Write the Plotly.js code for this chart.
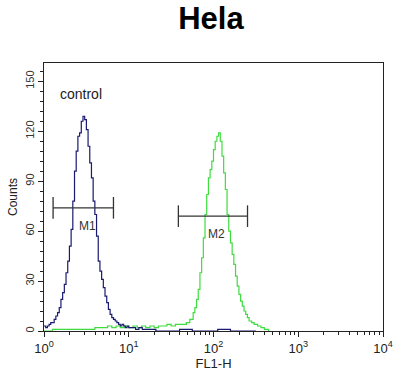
<!DOCTYPE html>
<html>
<head>
<meta charset="utf-8">
<script src="https://cdn.plot.ly/plotly-3.0.1.min.js"></script>
<style>html,body{margin:0;padding:0;background:#fff;}#chart{width:400px;height:387px;}</style>
</head>
<body>
<div id="chart"></div>
<script>
// Control (blue) histogram: log10(FL1-H) position and counts
const controlLogFL = [0.00,0.02,0.04,0.06,0.08,0.10,0.12,0.14,0.16,0.18,0.20,0.22,0.24,0.26,0.28,0.30,0.32,0.34,0.36,0.38,0.40,0.42,0.44,0.46,0.48,0.50,0.52,0.54,0.56,0.58,0.60,0.62,0.64,0.66,0.68,0.70,0.72,0.74,0.76,0.78,0.80,0.82,0.84,0.86,0.88,0.90,0.92,0.94,0.96,0.98,1.00,1.04,1.08,1.12,1.16,1.20,1.26,1.32,1.45,1.60,1.75,1.90,2.05,2.20,2.35,2.50];
const controlCounts = [3,2,3,4,5,5,7,9,11,14,19,23,28,35,42,51,61,78,96,108,117,119,126,129,127,121,111,101,92,78,70,57,42,36,31,26,21,17,13,10,8,7,6,5,4,3,4,3,2,3,2,2,1,2,1,1,1,0,0,1,0,0,1,0,0,0];

// Sample (green) histogram
const sampleLogFL = [0.00,0.10,0.20,0.30,0.40,0.50,0.60,0.70,0.75,0.80,0.85,0.90,0.95,1.00,1.05,1.10,1.15,1.20,1.25,1.30,1.35,1.40,1.45,1.50,1.55,1.60,1.64,1.68,1.72,1.76,1.78,1.80,1.82,1.84,1.86,1.88,1.90,1.92,1.94,1.96,1.98,2.00,2.02,2.04,2.06,2.08,2.10,2.12,2.14,2.16,2.18,2.20,2.22,2.24,2.26,2.28,2.30,2.32,2.34,2.36,2.38,2.40,2.42,2.45,2.48,2.52,2.56,2.60,2.65];
const sampleCounts = [0,1,1,1,1,1,2,2,3,2,3,2,3,2,3,2,3,2,3,2,3,3,4,3,4,4,4,5,7,11,14,19,25,35,44,56,70,82,92,97,102,109,114,117,119,114,105,95,85,70,60,53,46,40,33,27,22,18,15,12,10,8,6,5,4,3,2,1,0];

// Gates
const gateNames = ["M1","M2"];
const gateLow = [1.28, 38.5];
const gateHigh = [6.6, 252];
const gateLevel = [74, 69];

// Axis ticks
const xTickVals = [1,10,100,1000,10000];
const xTickText = ["10<sup>0</sup>","10<sup>1</sup>","10<sup>2</sup>","10<sup>3</sup>","10<sup>4</sup>"];
const yTickVals = [0,30,60,90,120,150];

const toLin = a => a.map(v => Math.pow(10, v));
const FONT = 'Liberation Sans, Arial, sans-serif';

const traces = [
  {x: toLin(sampleLogFL), y: sampleCounts, type:'scatter', mode:'lines', line:{color:'#3fdc3f', width:1.2, shape:'hv'}, hoverinfo:'skip'},
  {x: toLin(controlLogFL), y: controlCounts, type:'scatter', mode:'lines', line:{color:'#1a1a70', width:1.2, shape:'hv'}, hoverinfo:'skip'}
];
const annotations = [
  {text:'control', x:0.04, y:0.885, xref:'paper', yref:'paper', xanchor:'left', yanchor:'middle', showarrow:false, font:{family:FONT, size:14, color:'#222'}}
];
gateNames.forEach((n,i) => {
  traces.push({x:[gateLow[i], gateHigh[i]], y:[gateLevel[i], gateLevel[i]], type:'scatter', mode:'lines', line:{color:'#333', width:1.3},
    error_y:{type:'constant', value:6.5, width:0, thickness:1.3, color:'#333'}, hoverinfo:'skip'});
  annotations.push({text:n, x:Math.log10(Math.sqrt(gateLow[i]*gateHigh[i])), y:gateLevel[i], xref:'x', yref:'y', xshift:4, yshift:-18, showarrow:false,
    font:{family:FONT, size:12, color:'#333'}});
});

const layout = {
  width:400, height:387,
  margin:{l:44, r:17, t:63, b:56},
  paper_bgcolor:'#fff', plot_bgcolor:'#fff',
  showlegend:false,
  title:{text:'<b>Hela</b>', x:0.4925, xref:'paper', xanchor:'center', y:0.953, yref:'container', yanchor:'middle', font:{family:FONT, size:31, color:'#000'}},
  xaxis:{type:'log', range:[0,4], showline:true, mirror:true, linecolor:'#222', linewidth:1, showgrid:false, zeroline:false,
    tickmode:'array', tickvals:xTickVals, ticktext:xTickText, ticks:'outside', ticklen:5, tickcolor:'#222',
    minor:{ticks:'outside', ticklen:3, dtick:'D1', tickcolor:'#222'},
    tickfont:{family:FONT, size:13, color:'#222'},
    title:{text:'FL1-H', standoff:0, font:{family:FONT, size:13, color:'#222'}}},
  yaxis:{range:[0,161], showline:true, mirror:true, linecolor:'#222', linewidth:1, showgrid:false, zeroline:false,
    tickmode:'array', tickvals:yTickVals, ticks:'outside', ticklen:5, tickcolor:'#222', tickangle:-90,
    minor:{ticks:'outside', ticklen:3, dtick:6, tickcolor:'#222'},
    tickfont:{family:FONT, size:11, color:'#333'},
    title:{text:'Counts', standoff:3, font:{family:FONT, size:12, color:'#222'}}},
  annotations: annotations
};
Plotly.newPlot('chart', traces, layout, {displayModeBar:false, staticPlot:true});
</script>
</body>
</html>
